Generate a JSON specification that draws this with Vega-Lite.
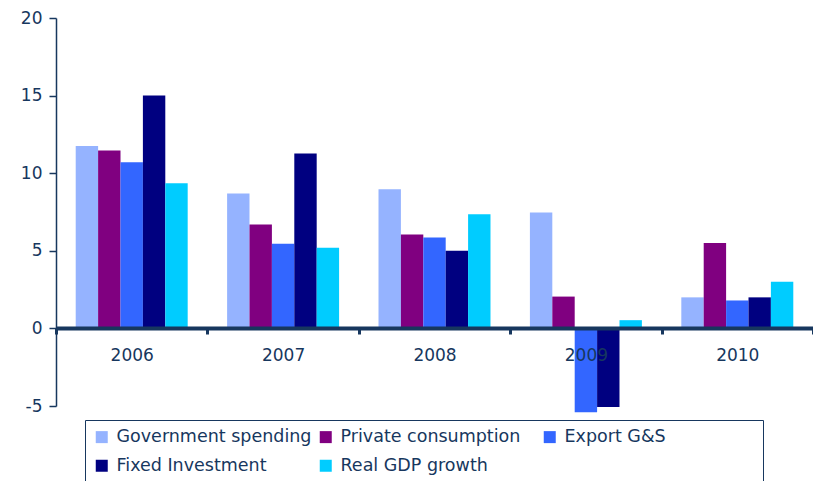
{
  "$schema": "https://vega.github.io/schema/vega-lite/v6.json",
  "width": 757,
  "height": 388,
  "autosize": {"type": "none"},
  "padding": {"left": 56, "top": 18, "right": 0, "bottom": 75},
  "background": "white",
  "config": {
    "view": {"stroke": null},
    "font": "DejaVu Sans"
  },
  "data": {
    "values": [
      {"year": "2006", "series": "Government spending", "value": 11.75},
      {"year": "2006", "series": "Private consumption", "value": 11.47},
      {"year": "2006", "series": "Export G&S", "value": 10.7},
      {"year": "2006", "series": "Fixed Investment", "value": 15.0},
      {"year": "2006", "series": "Real GDP growth", "value": 9.36},
      {"year": "2007", "series": "Government spending", "value": 8.7},
      {"year": "2007", "series": "Private consumption", "value": 6.7},
      {"year": "2007", "series": "Export G&S", "value": 5.45},
      {"year": "2007", "series": "Fixed Investment", "value": 11.27},
      {"year": "2007", "series": "Real GDP growth", "value": 5.2},
      {"year": "2008", "series": "Government spending", "value": 8.97},
      {"year": "2008", "series": "Private consumption", "value": 6.05},
      {"year": "2008", "series": "Export G&S", "value": 5.86},
      {"year": "2008", "series": "Fixed Investment", "value": 5.0},
      {"year": "2008", "series": "Real GDP growth", "value": 7.36},
      {"year": "2009", "series": "Government spending", "value": 7.47},
      {"year": "2009", "series": "Private consumption", "value": 2.05},
      {"year": "2009", "series": "Export G&S", "value": -5.4},
      {"year": "2009", "series": "Fixed Investment", "value": -5.07},
      {"year": "2009", "series": "Real GDP growth", "value": 0.53},
      {"year": "2010", "series": "Government spending", "value": 2.0},
      {"year": "2010", "series": "Private consumption", "value": 5.5},
      {"year": "2010", "series": "Export G&S", "value": 1.8},
      {"year": "2010", "series": "Fixed Investment", "value": 2.0},
      {"year": "2010", "series": "Real GDP growth", "value": 3.0}
    ]
  },
  "mark": {"type": "bar", "clip": false},
  "encoding": {
    "x": {
      "field": "year",
      "type": "nominal",
      "sort": null,
      "scale": {"paddingInner": 0, "paddingOuter": 0},
      "axis": {
        "title": null,
        "orient": "bottom",
        "offset": -78,
        "zindex": 1,
        "labelAngle": 0,
        "labelFont": "DejaVu Sans",
        "labelFontSize": 17,
        "labelColor": "#17375e",
        "labelPadding": 13,
        "domainColor": "#17375e",
        "domainWidth": 4,
        "tickBand": "extent",
        "tickColor": "#17375e",
        "tickWidth": 3,
        "tickSize": 6,
        "grid": false
      }
    },
    "xOffset": {
      "field": "series",
      "type": "nominal",
      "sort": ["Government spending", "Private consumption", "Export G&S", "Fixed Investment", "Real GDP growth"],
      "scale": {"paddingInner": 0, "paddingOuter": 0.88}
    },
    "y": {
      "field": "value",
      "type": "quantitative",
      "scale": {"domain": [-5, 20], "nice": false, "zero": false},
      "axis": {
        "title": null,
        "values": [-5, 0, 5, 10, 15, 20],
        "labelExpr": "replace(datum.label, '\u2212', '-')",
        "grid": false,
        "labelFont": "DejaVu Sans",
        "labelFontSize": 17,
        "labelColor": "#17375e",
        "labelPadding": 7,
        "domainColor": "#17375e",
        "domainWidth": 1.5,
        "tickColor": "#17375e",
        "tickWidth": 1.5,
        "tickSize": 7
      }
    },
    "color": {
      "field": "series",
      "type": "nominal",
      "sort": ["Government spending", "Private consumption", "Export G&S", "Fixed Investment", "Real GDP growth"],
      "scale": {
        "domain": ["Government spending", "Private consumption", "Export G&S", "Fixed Investment", "Real GDP growth"],
        "range": ["#95b3ff", "#800080", "#3366ff", "#000080", "#00ccff"]
      },
      "legend": {
        "title": null,
        "orient": "none",
        "legendX": 29,
        "legendY": 402,
        "direction": "horizontal",
        "columns": 3,
        "gridAlign": "all",
        "columnPadding": 5,
        "rowPadding": 10,
        "padding": 8,
        "strokeColor": "#17375e",
        "symbolType": "square",
        "symbolSize": 144,
        "symbolStrokeWidth": 0,
        "labelFont": "DejaVu Sans",
        "labelFontSize": 17.5,
        "labelColor": "#17375e",
        "labelOffset": 6,
        "labelLimit": 400,
        "labelExpr": "datum.label == 'Export G&S' ? datum.label + '                \u200b' : datum.label"
      }
    }
  }
}
